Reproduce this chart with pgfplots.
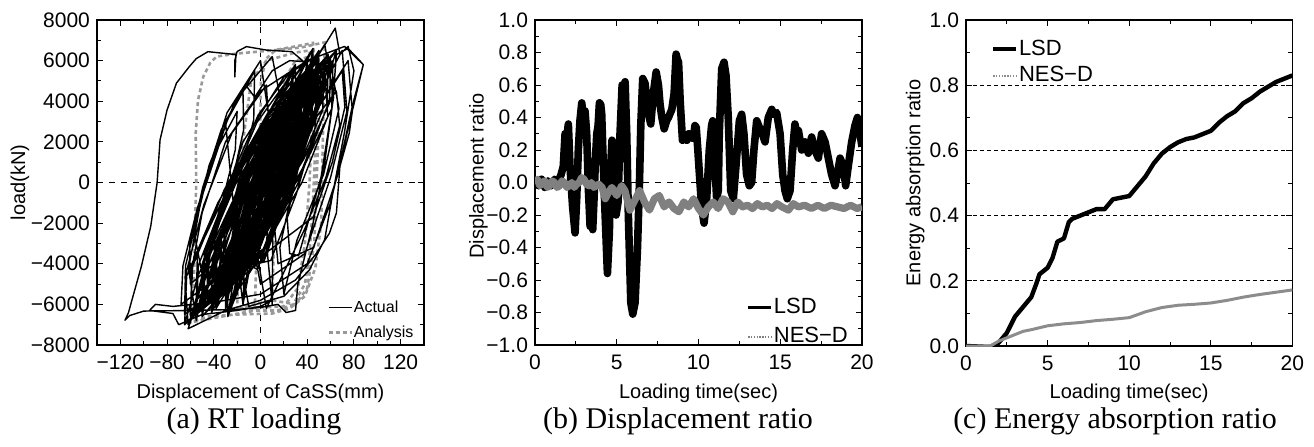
\documentclass[border=0pt]{standalone}
\usepackage{pgfplots}
\pgfplotsset{compat=1.18}
\usepackage{fontspec}
\setmainfont{Liberation Sans}
\newfontfamily\capfont{Liberation Serif}
\definecolor{anagray}{gray}{0.6}
\definecolor{nesgray}{gray}{0.5}
\definecolor{nescgray}{gray}{0.55}
\pgfplotsset{
  base/.style={
    scale only axis, anchor=south west,
    axis line style={line width=0.6pt},
    tick style={black, line width=0.5pt},
    major tick length=3pt, minor tick length=2pt,
    tick align=inside,
    minor x tick num=1, minor y tick num=1,
    tick label style={font=\fontsize{10.5}{12}\selectfont},
    xticklabel style={yshift=-1.5pt},
    label style={font=\fontsize{10.5}{12}\selectfont},
    scaled ticks=false,
    legend image code/.code={\draw[##1] (0pt,0pt) -- (11.5pt,0pt);},
    legend style={draw=none, fill=none, inner sep=0pt, cells={anchor=west}},
  },
}
\begin{document}
\begin{tikzpicture}
\path[use as bounding box] (0,0) rectangle (657pt,223pt);
% ---------------- (a) ----------------
\begin{axis}[base,
  at={(48.5pt,50.5pt)}, width=163.5pt, height=162.5pt,
  xmin=-140, xmax=140, ymin=-8000, ymax=8000,
  xtick={-120,-80,-40,0,40,80,120}, xticklabels={−120,−80,−40,0,40,80,120},
  ytick={-8000,-6000,-4000,-2000,0,2000,4000,6000,8000},
  yticklabels={−8000,−6000,−4000,−2000,0,2000,4000,6000,8000},
  xlabel={Displacement of CaSS(mm)}, ylabel={load(kN)},
  every axis x label/.style={at={(axis description cs:0.5,-0.15)}, anchor=center},
  every axis y label/.style={at={(axis description cs:-0.2355,0.5)}, rotate=90, anchor=center},
  legend style={at={(axis description cs:0.703,0.1424)}, anchor=north west, font=\fontsize{8}{9.6}\selectfont, row sep=3.9pt, nodes={inner sep=0.5pt, text height=6pt, text depth=1.6pt}},
]
\addplot[black, dashed, line width=0.4pt, forget plot] coordinates {(-140,0) (140,0)};
\addplot[black, dashed, line width=0.4pt, forget plot] coordinates {(0,-8000) (0,8000)};
% Analysis
\addplot[anagray, dashed, line width=1.3pt, dash pattern=on 2pt off 1.5pt, forget plot] coordinates {
(-61,-6900) (-57,-5000) (-56,-2000) (-55,0) (-55.5,2400) (-53.5,4060) (-49,5210) (-43,5900) (-37.5,6200) (-20,6350) (10,6500) (35,6650) (55,6900) (54,4000) (53,1000) (52,-2000) (47,-4200) (38,-5600) (25,-6200) (10,-6450) (-20,-6500) (-45,-6600) (-61,-6900)
(-5,-6300) (-3,-3000) (-1,0) (0.4,5050) (5,6100) (13,6530) (30,6700) (45,6870) (48,5000) (47,2000) (45,-1000) (42,-3500) (38,-5000) (28,-6000) (15,-6300) (-5,-6300)
(-20,-6200) (-18,-2000) (-15,2000) (-8,5000) (5,6000) (30,6400) (42,6500) (44,3000) (42,0) (38,-3000) (32,-5200) (20,-6100) (-20,-6200)
(10,-5800) (12,-2000) (15,2000) (20,5000) (30,6000) (48,6300) (50,3000) (48,0) (46,-3000) (40,-5200) (30,-6000) (10,-5800)
};
% Actual
\addplot[black, line width=0.7pt, line join=round, forget plot] coordinates {
(-20,-4000) (-15.6,-2300) (-2,250) (14.4,2800) (30,4500) (25.6,2800) (12,250) (-4.4,-2300)
(-35,-5500) (-26.2,-3300) (-4,0) (21.8,3300) (45,5500) (36.2,3300) (14,0) (-11.8,-3300)
(-28,-5000) (-22.4,-2800) (-4,500) (18.4,3800) (40,6000) (34.4,3800) (16,500) (-6.4,-2800)
(-45,-6000) (-37.2,-3760) (-14.5,-400) (12.6,2960) (38,5200) (30.2,2960) (7.5,-400) (-19.6,-3760)
(-15,-3500) (-11,-2040) (0,150) (13,2340) (25,3800) (21,2340) (10,150) (-3,-2040)
(-50,-6200) (-38.6,-3760) (-9.5,-100) (24.4,3560) (55,6000) (43.6,3560) (14.5,-100) (-19.4,-3760)
(-40,-5200) (-30,-3000) (-5,300) (24,3600) (50,5800) (40,3600) (15,300) (-14,-3000)
(-25,-6000) (-17.4,-3800) (2,-500) (24.6,2800) (45,5000) (37.4,2800) (18,-500) (-4.6,-3800)
(-55,-6500) (-44.4,-4080) (-17.5,-450) (13.8,3180) (42,5600) (31.4,3180) (4.5,-450) (-26.8,-4080)
(-32,-4800) (-22.4,-2600) (3,700) (32.8,4000) (60,6200) (50.4,4000) (25,700) (-4.8,-2600)
(-10,-3000) (-7.2,-1800) (1,0) (10.8,1800) (20,3000) (17.2,1800) (9,0) (-0.8,-1800)
(-60,-6800) (-48.4,-4220) (-18,-350) (17.6,3520) (50,6100) (38.4,3520) (8,-350) (-27.6,-4220)
(-38,-6200) (-30.6,-4060) (-10.5,-850) (13.2,2360) (35,4500) (27.6,2360) (7.5,-850) (-16.2,-4060)
(-22,-4500) (-13.6,-2420) (7,700) (30.8,3820) (52,5900) (43.6,3820) (23,700) (-0.8,-2420)
(-48,-5600) (-38.4,-3400) (-12,-100) (19.2,3200) (48,5400) (38.4,3200) (12,-100) (-19.2,-3400)
(-30,-5800) (-23.6,-3800) (-7,-800) (12.4,2200) (30,4200) (23.6,2200) (7,-800) (-12.4,-3800)
(-5,-2500) (-3.6,-1440) (2.5,150) (10.2,1740) (18,2800) (16.6,1740) (10.5,150) (2.8,-1440)
(-42,-6400) (-31.6,-3860) (-4,-50) (28.4,3760) (58,6300) (47.6,3760) (20,-50) (-12.4,-3860)
(-18,-5200) (-11.6,-3120) (5,0) (24.4,3120) (42,5200) (35.6,3120) (19,0) (-0.4,-3120)
(-65,-7000) (-53.6,-4600) (-24.5,-1000) (9.4,2600) (40,5000) (28.6,2600) (-0.5,-1000) (-34.4,-4600)
(-35,-4200) (-23.8,-2060) (4,1150) (36.2,4360) (65,6500) (53.8,4360) (26,1150) (-6.2,-2060)
(-28,-6600) (-21.8,-4280) (-4.5,-800) (16,2680) (35,5000) (28.8,2680) (11.5,-800) (-9,-4280)
(-12,-4000) (-7.4,-2280) (5.5,300) (20.8,2880) (35,4600) (30.4,2880) (17.5,300) (2.2,-2280)
(-45,-5000) (-35,-2820) (-10,450) (19,3720) (45,5900) (35,3720) (10,450) (-19,-2820)
(-20,-5500) (-12.4,-3100) (7,500) (29.6,4100) (50,6500) (42.4,4100) (23,500) (0.4,-3100)
(-50,-6600) (-42,-4120) (-20,-400) (6,3320) (30,5800) (22,3320) (0,-400) (-26,-4120)
(-8,-3800) (-2.4,-2000) (11,700) (26.4,3400) (40,5200) (34.4,3400) (21,700) (5.6,-2000)
(-36,-5400) (-28.2,-3240) (-3.5,0) (26.4,3240) (55,5400) (47.2,3240) (22.5,0) (-7.4,-3240)
(-25,-4500) (-19.2,-2500) (-4.5,500) (12.6,3500) (28,5500) (22.2,3500) (7.5,500) (-9.6,-2500)
(-55,-5800) (-42.8,-3440) (-10.5,100) (27.4,3640) (62,6000) (49.8,3640) (17.5,100) (-20.4,-3440)
(-15,-6000) (-8,-3840) (9.5,-600) (29.8,2640) (48,4800) (41,2640) (23.5,-600) (3.2,-3840)
(-40,-4500) (-33.6,-2640) (-17,150) (2.4,2940) (20,4800) (13.6,2940) (-3,150) (-22.4,-2640)
(-30,-6300) (-22.2,-3720) (-1.5,150) (22.8,4020) (45,6600) (37.2,4020) (16.5,150) (-7.8,-3720)
(-2,-2000) (1.2,-900) (10,750) (20.4,2400) (30,3500) (26.8,2400) (18,750) (7.6,-900)
(-20,-4000) (-21.2,-2300) (-9,250) (8.8,2800) (30,4500) (31.2,2800) (19,250) (1.2,-2300)
(-35,-5500) (-33.4,-3300) (-13,0) (14.6,3300) (45,5500) (43.4,3300) (23,0) (-4.6,-3300)
(-28,-5000) (-30.4,-2800) (-14,500) (10.4,3800) (40,6000) (42.4,3800) (26,500) (1.6,-2800)
(-45,-6000) (-46,-3760) (-25.5,-400) (3.8,2960) (38,5200) (39,2960) (18.5,-400) (-10.8,-3760)
(-15,-3500) (-15,-2040) (-5,150) (9,2340) (25,3800) (25,2340) (15,150) (1,-2040)
(-50,-6200) (-48.2,-3760) (-21.5,-100) (14.8,3560) (55,6000) (53.2,3560) (26.5,-100) (-9.8,-3760)
(-40,-5200) (-38,-3000) (-15,300) (16,3600) (50,5800) (48,3600) (25,300) (-6,-3000)
(-25,-6000) (-23.8,-3800) (-6,-500) (18.2,2800) (45,5000) (43.8,2800) (26,-500) (1.8,-3800)
(-55,-6500) (-53.2,-4080) (-28.5,-450) (5,3180) (42,5600) (40.2,3180) (15.5,-450) (-18,-4080)
(-32,-4800) (-31.2,-2600) (-8,700) (24,4000) (60,6200) (59.2,4000) (36,700) (4,-2600)
(-10,-3000) (-10.4,-1800) (-3,0) (7.6,1800) (20,3000) (20.4,1800) (13,0) (2.4,-1800)
(-60,-6800) (-58.8,-4220) (-31,-350) (7.2,3520) (50,6100) (48.8,3520) (21,-350) (-17.2,-4220)
(-38,-6200) (-37.8,-4060) (-19.5,-850) (6,2360) (35,4500) (34.8,2360) (16.5,-850) (-9,-4060)
(-22,-4500) (-20,-2420) (-1,700) (24.4,3820) (52,5900) (50,3820) (31,700) (5.6,-2420)
(-48,-5600) (-48,-3400) (-24,-100) (9.6,3200) (48,5400) (48,3200) (24,-100) (-9.6,-3400)
(-30,-5800) (-29.2,-3800) (-14,-800) (6.8,2200) (30,4200) (29.2,2200) (14,-800) (-6.8,-3800)
(-5,-2500) (-6.8,-1440) (-1.5,150) (7,1740) (18,2800) (19.8,1740) (14.5,150) (6,-1440)
(-42,-6400) (-41.2,-3860) (-16,-50) (18.8,3760) (58,6300) (57.2,3760) (32,-50) (-2.8,-3860)
(-18,-5200) (-17.2,-3120) (-2,0) (18.8,3120) (42,5200) (41.2,3120) (26,0) (5.2,-3120)
(-65,-7000) (-63.2,-4600) (-36.5,-1000) (-0.2,2600) (40,5000) (38.2,2600) (11.5,-1000) (-24.8,-4600)
(-35,-4200) (-32.6,-2060) (-7,1150) (27.4,4360) (65,6500) (62.6,4360) (37,1150) (2.6,-2060)
(-28,-6600) (-28.2,-4280) (-12.5,-800) (9.6,2680) (35,5000) (35.2,2680) (19.5,-800) (-2.6,-4280)
(-12,-4000) (-12.2,-2280) (-0.5,300) (16,2880) (35,4600) (35.2,2880) (23.5,300) (7,-2280)
(-45,-5000) (-43,-2820) (-20,450) (11,3720) (45,5900) (43,3720) (20,450) (-11,-2820)
(-20,-5500) (-18.8,-3100) (-1,500) (23.2,4100) (50,6500) (48.8,4100) (31,500) (6.8,-3100)
(-50,-6600) (-50,-4120) (-30,-400) (-2,3320) (30,5800) (30,3320) (10,-400) (-18,-4120)
(-8,-3800) (-6.4,-2000) (6,700) (22.4,3400) (40,5200) (38.4,3400) (26,700) (9.6,-2000)
(-36,-5400) (-38.6,-3240) (-16.5,0) (16,3240) (55,5400) (57.6,3240) (35.5,0) (3,-3240)
(-25,-4500) (-24,-2500) (-10.5,500) (7.8,3500) (28,5500) (27,3500) (13.5,500) (-4.8,-2500)
(-55,-5800) (-54,-3440) (-24.5,100) (16.2,3640) (62,6000) (61,3640) (31.5,100) (-9.2,-3440)
(-15,-6000) (-13.6,-3840) (2.5,-600) (24.2,2640) (48,4800) (46.6,2640) (30.5,-600) (8.8,-3840)
(-40,-4500) (-39.2,-2640) (-24,150) (-3.2,2940) (20,4800) (19.2,2940) (4,150) (-16.8,-2640)
(-30,-6300) (-29.4,-3720) (-10.5,150) (15.6,4020) (45,6600) (44.4,4020) (25.5,150) (-0.6,-3720)
(-2,-2000) (-2,-900) (6,750) (17.2,2400) (30,3500) (30,2400) (22,750) (10.8,-900)
(10,-6000) (6,-3500) (20,250) (42,3500) (70,6500) (74,3500) (60,250) (38,-3500)
(0,-5000) (-7.2,-2840) (6,400) (28.8,3640) (60,5800) (67.2,3640) (54,400) (31.2,-2840)
(20,-5500) (16.6,-3200) (29.5,250) (49.6,3700) (75,6000) (78.4,3700) (65.5,250) (45.4,-3200)
(15,-4000) (12.2,-2300) (24,250) (42.2,2800) (65,4500) (67.8,2800) (56,250) (37.8,-2300)
(5,-6200) (-2.6,-3600) (8,300) (27.4,4200) (55,6800) (62.6,4200) (52,300) (32.6,-3600)
(25,-3500) (22.8,-1700) (33.5,1000) (49.8,3700) (70,5500) (72.2,3700) (61.5,1000) (45.2,-1700)
(-65,-6500) (-64.2,-4100) (-49,-500) (-28.2,3100) (-5,5500) (-5.8,3100) (-21,-500) (-41.8,-4100)
(-60,-5000) (-60.6,-3100) (-49.5,-250) (-33.6,2600) (-15,4500) (-14.4,2600) (-25.5,-250) (-41.4,-3100)
(-55,-6800) (-61.6,-4240) (-49.5,-400) (-28.6,3440) (0,6000) (6.6,3440) (-5.5,-400) (-26.4,-4240)
(-68,-6000) (-66.4,-4100) (-54,-1250) (-37.6,1600) (-20,3500) (-21.6,1600) (-34,-1250) (-50.4,-4100)
(-50,-4500) (-57.2,-2360) (-44,850) (-21.2,4060) (10,6200) (17.2,4060) (4,850) (-18.8,-2360)
(-62,-7000) (-64.6,-4640) (-48.5,-1100) (-24.4,2440) (5,4800) (7.6,2440) (-8.5,-1100) (-32.6,-4640)
(-60,-6500) (-58,-4000) (-50,-1500) (-30,2000) (0,4500) (40,6000) (72,6700) (88,5800) (80,4070) (76,2430) (68,790) (65,-1500) (59,-2500) (48,-3475) (30,-4800) (0,-5800) (-30,-6300) (-62,-7200)
(-55,-6000) (-40,-2500) (-15,2000) (20,5200) (50,6300) (64,7600) (68,6300) (75,6700) (80,5500) (72,2500) (62,-500) (55,-2800) (42,-4300) (20,-5600) (-10,-6100)
(-20,-3000) (-25,0) (-30,3000) (-12.7,4800) (-5,4200) (10,5500) (25,6000) (37,5950) (27,6440) (5,6520) (-12,6690) (-20,6450) (-22,6000) (-22,5200) (-21,6300) (-45,6440) (-55,6100) (-61,5700) (-72,4890) (-80,3570) (-86,2100) (-88.5,0) (-94,-2160) (-102,-4130) (-110,-5770) (-113,-6400) (-116,-6780) (-112,-6550) (-100,-6330) (-60,-6300) (-20,-6250) (0,-6150) (15,-6000) (22,-6400) (30,-6300) (32,-5000) (45,-2000) (55,1000) (62,4000) (65,6300) (75,6600) (85,6000) (88,5800)
(60,-1000) (40,-4000) (0,-5500) (-40,-5900) (-75,-6100) (-90,-6000) (-95,-6300) (-75,-6450) (-70,-7000) (-62,-6800) (-50,-6500) (-20,-6300) (0,-6100) (10,-5800) (5,-3000) (10,0)
};
\addlegendimage{black, line width=0.75pt}
\addlegendentry{Actual}
\addlegendimage{anagray, line width=1.3pt, dash pattern=on 2pt off 1.5pt}
\addlegendentry{Analysis}
\end{axis}
% ---------------- (b) ----------------
\begin{axis}[base,
  at={(267.5pt,50.5pt)}, width=163.5pt, height=162.5pt,
  xmin=0, xmax=20, ymin=-1, ymax=1,
  xtick={0,5,10,15,20}, xticklabels={0,5,10,15,20},
  ytick={-1,-0.8,-0.6,-0.4,-0.2,0,0.2,0.4,0.6,0.8,1},
  yticklabels={−1.0,−0.8,−0.6,−0.4,−0.2,0.0,0.2,0.4,0.6,0.8,1.0},
  xlabel={Loading time(sec)}, ylabel={Displacement ratio},
  every axis x label/.style={at={(axis description cs:0.5,-0.15)}, anchor=center},
  every axis y label/.style={at={(axis description cs:-0.173,0.52)}, rotate=90, anchor=center},
  legend style={at={(axis description cs:0.645,0.151)}, anchor=north west, font=\fontsize{11}{13}\selectfont, row sep=3.3pt, nodes={inner sep=0.5pt, text height=8pt, text depth=2.2pt}},
]
\addplot[black, dashed, line width=0.4pt, forget plot] coordinates {(0,0) (20,0)};
\addplot[black, line width=3.8pt, line join=round, forget plot] coordinates {
(0,0.0) (0.2,-0.02) (0.4,0.02) (0.6,-0.03) (0.8,0.01) (1.0,-0.02) (1.2,0.02) (1.4,0.0) (1.6,0.05)
(1.73,0.1) (1.84,0.3) (1.95,0.28) (2.04,0.36) (2.14,0.1) (2.3,-0.15) (2.45,-0.31) (2.55,-0.1)
(2.65,0.2) (2.75,0.38) (2.86,0.49) (2.95,0.4) (3.06,0.44) (3.16,0.3) (3.27,-0.05) (3.37,-0.27)
(3.45,-0.22) (3.53,-0.29) (3.61,-0.1) (3.7,0.15) (3.78,0.3) (3.86,0.35) (3.94,0.49) (4.02,0.48)
(4.08,0.42) (4.18,0.1) (4.29,-0.2) (4.43,-0.56) (4.55,-0.3) (4.63,0.1) (4.71,0.26) (4.78,0.24)
(4.84,0.18) (4.96,-0.2) (5.08,-0.12) (5.2,0.3) (5.33,0.6) (5.42,0.58) (5.51,0.62) (5.61,0.3)
(5.71,-0.2) (5.86,-0.74) (5.98,-0.81) (6.12,-0.74) (6.27,-0.4) (6.39,0.0) (6.47,0.35) (6.59,0.64)
(6.73,0.61) (6.85,0.5) (6.94,0.42) (7.08,0.36) (7.24,0.55) (7.41,0.68) (7.55,0.6) (7.65,0.48)
(7.76,0.4) (7.9,0.33) (8.05,0.38) (8.16,0.4) (8.37,0.45) (8.51,0.55) (8.63,0.79) (8.7,0.76)
(8.78,0.74) (8.88,0.5) (9.02,0.26) (9.15,0.28) (9.29,0.26) (9.4,0.3) (9.53,0.28) (9.69,0.27)
(9.78,0.35) (9.86,0.34) (9.96,0.2) (10.09,0.0) (10.19,-0.15) (10.34,-0.25) (10.5,-0.1) (10.66,0.2)
(10.8,0.35) (10.87,0.38) (11.01,0.1) (11.11,-0.1) (11.21,-0.05) (11.27,0.3) (11.42,0.7) (11.56,0.74)
(11.68,0.66) (11.82,0.4) (11.97,-0.05) (12.13,-0.1) (12.29,0.1) (12.5,0.38) (12.64,0.42) (12.78,0.3)
(12.94,0.05) (13.11,-0.02) (13.25,0.0) (13.39,0.2) (13.56,0.38) (13.76,0.33) (13.9,0.3) (14.07,0.25)
(14.27,0.4) (14.48,0.45) (14.6,0.42) (14.78,0.43) (14.99,0.3) (15.15,0.05) (15.29,-0.05) (15.43,-0.1)
(15.6,-0.05) (15.76,0.2) (15.9,0.36) (16.0,0.3) (16.11,0.32) (16.31,0.2) (16.51,0.25) (16.72,0.18)
(16.92,0.28) (17.12,0.2) (17.33,0.15) (17.53,0.3) (17.74,0.25) (17.94,0.15) (18.14,0.05) (18.35,-0.02)
(18.49,0.05) (18.66,0.15) (18.86,0.1) (19.0,-0.02) (19.16,0.1) (19.37,0.25) (19.57,0.35) (19.72,0.4)
(19.88,0.3) (20.0,0.22)
};
\addplot[nesgray, line width=3.6pt, line join=round, forget plot] coordinates {
(0,0.0) (0.15,0.02) (0.3,-0.02) (0.45,0.0) (0.6,0.01) (0.75,-0.03) (0.9,-0.02) (1.05,0.01) (1.2,0.0) (1.35,-0.03) (1.5,-0.02) (1.65,0.01) (1.8,0.0) (1.95,-0.03) (2.1,-0.02) (2.25,0.0) (2.4,-0.03)
(2.55,-0.01) (2.7,0.0) (2.85,0.03) (3.0,0.02) (3.15,-0.01) (3.3,-0.02) (3.45,0.0) (3.6,-0.03) (3.75,-0.02) (3.9,-0.01) (4.1,-0.03) (4.3,-0.1) (4.5,-0.06) (4.7,-0.03)
(5.0,-0.08) (5.3,-0.02) (5.5,-0.05) (5.8,-0.17) (6.1,-0.11) (6.4,-0.05) (6.7,-0.12) (7.0,-0.17)
(7.3,-0.1) (7.6,-0.08) (7.9,-0.15) (8.2,-0.12) (8.5,-0.16) (8.8,-0.18) (9.1,-0.12) (9.4,-0.15)
(9.7,-0.1) (10.0,-0.16) (10.3,-0.2) (10.6,-0.15) (10.9,-0.12) (11.2,-0.16) (11.5,-0.1) (11.8,-0.12)
(12.1,-0.18) (12.4,-0.12) (12.7,-0.15) (13.0,-0.14) (13.3,-0.16) (13.6,-0.13) (13.9,-0.15) (14.2,-0.14)
(14.5,-0.16) (14.8,-0.13) (15.1,-0.15) (15.5,-0.17) (15.8,-0.13) (16.1,-0.15) (16.5,-0.14) (16.9,-0.16)
(17.3,-0.14) (17.7,-0.16) (18.1,-0.14) (18.5,-0.15) (18.9,-0.16) (19.3,-0.14) (19.7,-0.16) (20.0,-0.15)
};
\addlegendimage{black, line width=1.8pt}
\addlegendentry{LSD}
\addlegendimage{nesgray, line width=1pt, dash pattern=on 0.7pt off 0.7pt}
\addlegendentry{NES−D}
\end{axis}
% ---------------- (c) ----------------
\begin{axis}[base,
  at={(483pt,50pt)}, width=163.2pt, height=163pt,
  xmin=0, xmax=20, ymin=0, ymax=1,
  xtick={0,5,10,15,20}, xticklabels={0,5,10,15,20},
  ytick={0,0.2,0.4,0.6,0.8,1},
  yticklabels={0.0,0.2,0.4,0.6,0.8,1.0},
  ymajorgrids, major grid style={black, line width=0.4pt, dash pattern=on 2pt off 1.5pt},
  xlabel={Loading time(sec)}, ylabel={Energy absorption ratio},
  every axis x label/.style={at={(axis description cs:0.5,-0.144)}, anchor=center},
  every axis y label/.style={at={(axis description cs:-0.156,0.5)}, rotate=90, anchor=center},
  legend style={at={(axis description cs:0.0766,0.946)}, anchor=north west, font=\fontsize{11}{13}\selectfont, row sep=2pt, nodes={inner sep=0.5pt, text height=8pt, text depth=2.2pt}},
]
\addplot[black, line width=2.2pt, line join=round, forget plot] coordinates {
(0,0) (1.5,-0.003) (1.6,0.0) (2,0.01) (2.5,0.04) (3,0.09) (3.5,0.12) (4,0.15) (4.3,0.19) (4.5,0.22)
(5,0.24) (5.3,0.27) (5.6,0.32) (6,0.33) (6.3,0.38) (6.5,0.39) (7,0.40) (7.5,0.41) (8,0.42) (8.5,0.42)
(9,0.45) (9.5,0.455) (10,0.46) (10.5,0.49) (11,0.52) (11.5,0.56) (12,0.59) (12.5,0.61) (13,0.625)
(13.5,0.635) (14,0.64) (14.5,0.65) (15,0.66) (15.5,0.685) (16,0.705) (16.5,0.72) (17,0.745)
(17.5,0.76) (18,0.78) (18.5,0.795) (19,0.81) (19.5,0.82) (20,0.83)
};
\addplot[nescgray, line width=1.5pt, line join=round, forget plot] coordinates {
(0,0) (1.5,0) (2,0.015) (2.5,0.025) (3,0.035) (3.5,0.045) (4,0.05) (4.5,0.056) (5,0.062) (6,0.068)
(7,0.072) (8,0.078) (9,0.082) (10,0.087) (11,0.105) (12,0.118) (13,0.125) (14,0.128) (15,0.132)
(16,0.14) (17,0.15) (18,0.158) (19,0.165) (20,0.172)
};
\addlegendimage{black, line width=1.8pt}
\addlegendentry{LSD}
\addlegendimage{nescgray, line width=1pt, dash pattern=on 0.7pt off 0.7pt}
\addlegendentry{NES−D}
\end{axis}
\node[font=\capfont\fontsize{15}{18}\selectfont] at (127pt,12.5pt) {(a) RT loading};
\node[font=\capfont\fontsize{15}{18}\selectfont] at (339pt,12.5pt) {(b) Displacement ratio};
\node[font=\capfont\fontsize{15}{18}\selectfont] at (557.5pt,12.5pt) {(c) Energy absorption ratio};
\end{tikzpicture}
\end{document}
